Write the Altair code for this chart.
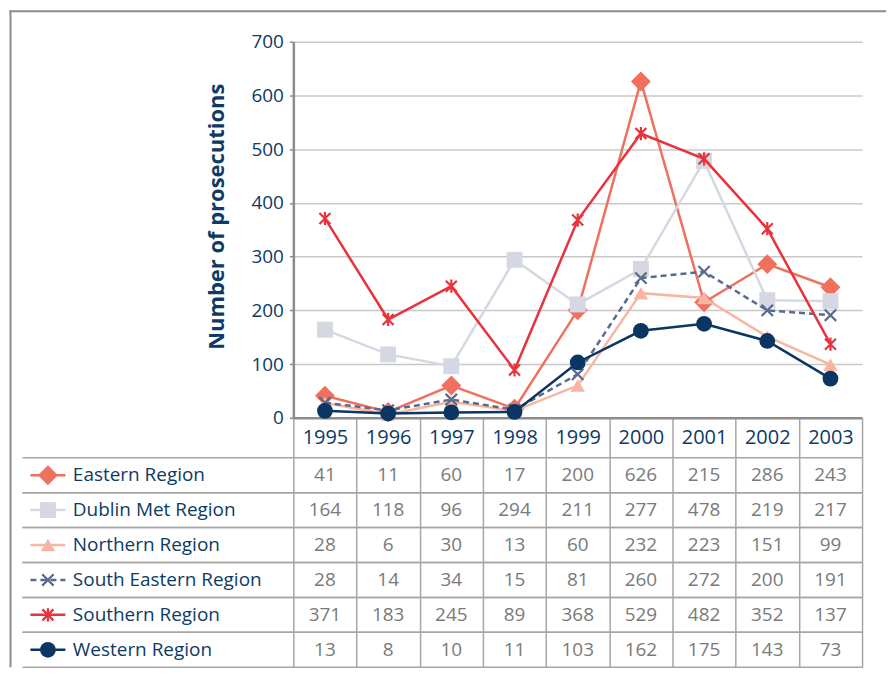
import altair as alt
import pandas as pd

years = ["1995", "1996", "1997", "1998", "1999", "2000", "2001", "2002", "2003"]
series = ["Eastern Region", "Dublin Met Region", "Northern Region",
          "South Eastern Region", "Southern Region", "Western Region"]
eastern = [41, 11, 60, 17, 200, 626, 215, 286, 243]
dublin = [164, 118, 96, 294, 211, 277, 478, 219, 217]
northern = [28, 6, 30, 13, 60, 232, 223, 151, 99]
south_eastern = [28, 14, 34, 15, 81, 260, 272, 200, 191]
southern = [371, 183, 245, 89, 368, 529, 482, 352, 137]
western = [13, 8, 10, 11, 103, 162, 175, 143, 73]
y_ticks = [0, 100, 200, 300, 400, 500, 600, 700]

# styles per series
colors = ["#F07060", "#D5D8E2", "#F8B6A2", "#5A6A8E", "#E8323C", "#0B3563"]
X_PATH = "M-1,-1L1,1M-1,1L1,-1"
XBAR_PATH = "M-1,-1L1,1M-1,1L1,-1M0,-1.2L0,1.2"
shapes = ["diamond", "square", "triangle-up", X_PATH, XBAR_PATH, "circle"]
sizes = [400, 256, 210, 130, 121, 250]
filled = [True, True, True, False, False, True]
dashes = [None, None, None, [6, 4], None, None]

all_values = [eastern, dublin, northern, south_eastern, southern, western]
rows = []
for s, vals in zip(series, all_values):
    for yr, v in zip(years, vals):
        rows.append({"year": yr, "series": s, "value": v})
df = pd.DataFrame(rows)
sdf = pd.DataFrame({"series": series})
one = pd.DataFrame({"k": [0]})

FONT = "Open Sans"
NAVY = "#0D3A66"
GRAY_TXT = "#7A7A7A"
AXIS_GRAY = "#8C8C8C"
LINE_GRAY = "#A6A6A6"

# ---------- top: line chart ----------
x_top = alt.X(
    "year:O",
    scale=alt.Scale(type="band", domain=years, paddingInner=0, paddingOuter=0),
    bandPosition=0.5,
    title=None,
    axis=alt.Axis(
        tickBand="extent", ticks=True, tickSize=40, tickColor=LINE_GRAY, tickWidth=1.5,
        domainColor=AXIS_GRAY, domainWidth=2.5,
        labelFont=FONT, labelFontSize=20, labelColor=NAVY, labelAngle=0,
        labelPadding=-20, labelBaseline="middle", grid=False,
    ),
)
y_top = alt.Y(
    "value:Q",
    scale=alt.Scale(domain=[0, 700], nice=False),
    axis=alt.Axis(
        values=y_ticks, grid=True, gridColor="#C8C8C8", gridWidth=1.5,
        domainColor=AXIS_GRAY, domainWidth=2.5, tickColor=AXIS_GRAY, tickSize=4, tickWidth=1.5,
        labelFont=FONT, labelFontSize=19, labelColor=NAVY, labelPadding=6,
        title="Number of prosecutions", titleFont=FONT, titleFontSize=22,
        titleFontWeight="bold", titleColor=NAVY, titlePadding=22, titleY=175,
    ),
)


def point_mark(i):
    kw = dict(shape=shapes[i], size=sizes[i], filled=filled[i], color=colors[i], opacity=1)
    if not filled[i]:
        kw["strokeWidth"] = 2.2
    return kw


def line_mark(i, width=2.5):
    kw = dict(color=colors[i], strokeWidth=width)
    if dashes[i]:
        kw["strokeDash"] = dashes[i]
    return kw


frame_left = alt.Chart(one).mark_rule(color=AXIS_GRAY, strokeWidth=2).encode(
    x=alt.value(-283.5), y=alt.value(-31.5), y2=alt.value(627))
frame_top = alt.Chart(one).mark_rule(color=AXIS_GRAY, strokeWidth=2).encode(
    x=alt.value(-284.5), x2=alt.value(594), y=alt.value(-30.5))

top_layers = [frame_left, frame_top]
for i, s in enumerate(series):
    sub = alt.Chart(df).transform_filter(alt.datum.series == s)
    top_layers.append(sub.mark_line(**line_mark(i)).encode(x=x_top, y=y_top))
    top_layers.append(sub.mark_point(**point_mark(i)).encode(x=x_top, y=y_top))

top = alt.layer(*top_layers).properties(width=570, height=377)

# ---------- bottom: data table ----------
x_tab = alt.X(
    "year:O",
    scale=alt.Scale(type="band", domain=years, paddingInner=0, paddingOuter=0),
    title=None,
    axis=alt.Axis(grid=True, tickBand="extent", gridColor=LINE_GRAY, gridWidth=1.5,
                  labels=False, ticks=False, domain=False),
)


def y_tab(band_pos):
    return alt.Y(
        "series:N",
        scale=alt.Scale(type="band", domain=series, paddingInner=0, paddingOuter=0),
        bandPosition=band_pos,
        title=None,
        axis=alt.Axis(labels=True, ticks=False, domain=False, grid=False,
                      labelAlign="left", labelPadding=221.5, labelLimit=0,
                      labelFont=FONT, labelFontSize=19, labelColor=NAVY, labelBaseline="middle"),
    )


cells = alt.Chart(df).mark_text(font=FONT, fontSize=19, color=GRAY_TXT).encode(
    x=x_tab, y=y_tab(0.5), text="value:Q")
row_top = alt.Chart(sdf).mark_rule(color=LINE_GRAY, strokeWidth=1.5).encode(
    y=y_tab(0), x=alt.value(-271.5), x2=alt.value("width"))
row_bot = alt.Chart(sdf).mark_rule(color=LINE_GRAY, strokeWidth=1.5).encode(
    y=y_tab(1), x=alt.value(-271.5), x2=alt.value("width"))

bottom_layers = [cells, row_top, row_bot]
for i, s in enumerate(series):
    sub = alt.Chart(sdf).transform_filter(alt.datum.series == s)
    bottom_layers.append(sub.mark_rule(**line_mark(i)).encode(
        y=y_tab(0.5), x=alt.value(-263.5), x2=alt.value(-228.5)))
    bottom_layers.append(sub.mark_point(**point_mark(i)).encode(
        y=y_tab(0.5), x=alt.value(-246)))

bottom = alt.layer(*bottom_layers).properties(width=570, height=210)

chart = alt.vconcat(top, bottom, spacing=40, bounds="flush").properties(
    padding=0, background="white"
).configure_view(strokeWidth=0)

chart.save("out.html", embed_options={"renderer": "svg", "actions": False})
